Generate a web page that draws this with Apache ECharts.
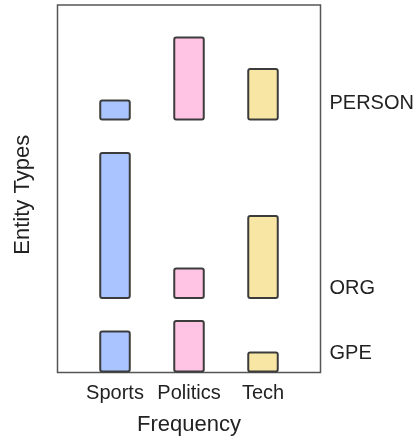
<!DOCTYPE html>
<html>
<head>
<meta charset="utf-8">
<script src="https://cdn.jsdelivr.net/npm/echarts@6/dist/echarts.min.js"></script>
<style>
html,body{margin:0;padding:0;background:#fff;}
#chart{width:418px;height:441px;}
</style>
</head>
<body>
<div id="chart"></div>
<script>
// ---- data ----
var categories = ['Sports', 'Politics', 'Tech'];
var gpeValues = [2, 2.5, 1];
var orgValues = [7, 1.5, 4];
var personValues = [1, 4, 2.5];
// baselines where each entity-type band starts
var orgBase = 3.5;
var personBase = 12;
var yMax = 17.5;
// right-hand entity labels and their positions
var entityLabels = ['GPE', 'ORG', 'PERSON'];
var entityLabelPos = [0.9, 4.0, 12.8];

var palette = ['#aac4ff', '#ffc3e3', '#f8e6a4'];

var gap1 = gpeValues.map(function (v) { return orgBase - v; });
var gap2 = orgValues.map(function (v) { return personBase - orgBase - v; });

var barStyle = { borderColor: '#3c3c3c', borderWidth: 2, borderRadius: 2 };
function seg(name, values, visible) {
  return {
    name: name, type: 'bar', stack: 'all', xAxisIndex: 1, yAxisIndex: 2,
    barWidth: 31.5, colorBy: 'data', data: values, silent: true,
    itemStyle: visible ? barStyle : { color: 'transparent', borderWidth: 0 }
  };
}

var font = 'Liberation Sans';
var chart = echarts.init(document.getElementById('chart'), null, { renderer: 'canvas' });
chart.setOption({
  animation: false,
  color: palette,
  textStyle: { fontFamily: font, color: '#222' },
  grid: [
    { left: 57.5, right: 97.5, top: 5, bottom: 68.5, show: true, borderColor: '#555', borderWidth: 1.5, backgroundColor: 'transparent', outerBoundsMode: 'none' },
    { left: 78, right: 118, top: 5, bottom: 68.5, outerBoundsMode: 'none' }
  ],
  xAxis: [
    { gridIndex: 0, type: 'value', show: false },
    {
      gridIndex: 1, type: 'category', data: categories,
      axisLine: { show: false }, axisTick: { show: false }, splitLine: { show: false },
      axisLabel: { interval: 0, margin: 11, fontSize: 20, color: '#222', fontFamily: font },
      name: 'Frequency', nameLocation: 'middle', nameGap: 41,
      nameTextStyle: { fontSize: 22, color: '#222', fontFamily: font }
    }
  ],
  yAxis: [
    {
      gridIndex: 0, type: 'value', position: 'right', min: 0, max: yMax,
      axisLine: { show: false }, axisTick: { show: false }, splitLine: { show: false },
      axisLabel: {
        customValues: entityLabelPos, margin: 9, fontSize: 20, color: '#222', fontFamily: font,
        formatter: function (v) {
          var i = entityLabelPos.indexOf(v);
          return i >= 0 ? entityLabels[i] : '';
        }
      }
    },
    {
      gridIndex: 0, type: 'value', position: 'left', min: 0, max: yMax,
      axisLine: { show: false }, axisTick: { show: false }, splitLine: { show: false },
      axisLabel: { show: false },
      name: 'Entity Types', nameLocation: 'middle', nameGap: 24,
      nameTextStyle: { fontSize: 22, color: '#222', fontFamily: font, padding: [0, 12, 0, 0] }
    },
    { gridIndex: 1, type: 'value', min: 0, max: yMax, show: false }
  ],
  series: [
    seg('GPE', gpeValues, true),
    seg('gap1', gap1, false),
    seg('ORG', orgValues, true),
    seg('gap2', gap2, false),
    seg('PERSON', personValues, true)
  ]
});
</script>
</body>
</html>
